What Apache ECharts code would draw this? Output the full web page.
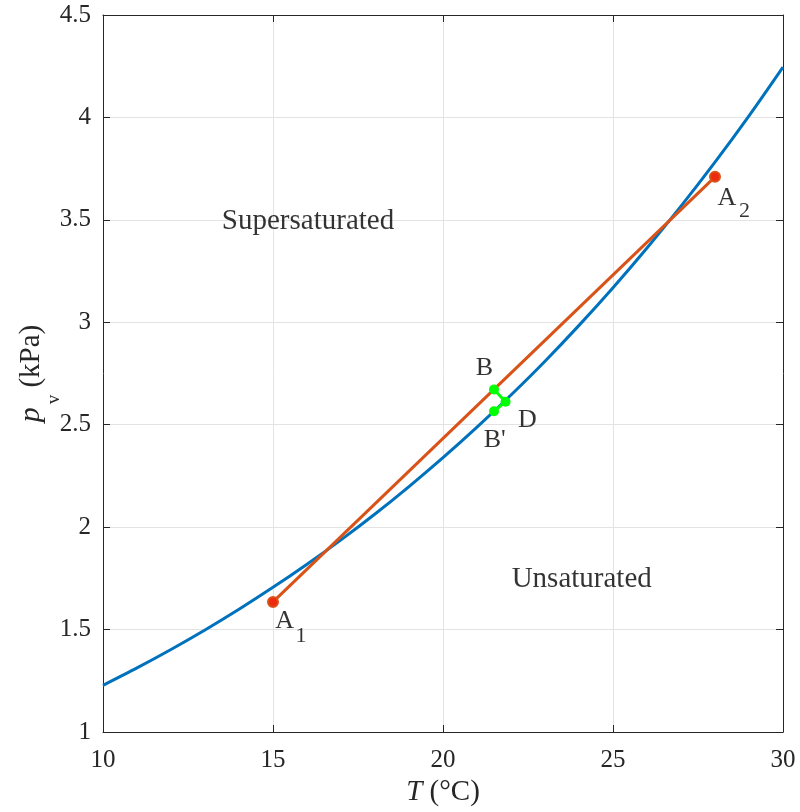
<!DOCTYPE html>
<html><head><meta charset="utf-8">
<script src="https://cdn.jsdelivr.net/npm/echarts@6/dist/echarts.min.js"></script>
<style>html,body{margin:0;padding:0;background:#fff}#c{width:800px;height:812px}</style>
</head><body><div id="c"></div>
<script>
// Saturation vapour pressure curve
const satT = [10,11,12,13,14,15,16,17,18,19,20,21,22,23,24,25,26,27,28,29,30];
const satP = [1.228,1.313,1.403,1.498,1.599,1.706,1.819,1.938,2.064,2.198,2.339,2.488,2.645,2.810,2.985,3.169,3.363,3.567,3.782,4.008,4.246];
// Mixing line A1 -> A2
const mixT = [15, 28];
const mixP = [1.635, 3.71];
// Green path B -> D -> B'
const pathT = [21.5, 21.84, 21.5];
const pathP = [2.672, 2.612, 2.566];
// Point letters
const ptNames = ['A', 'A', 'B', 'D', "B'"];
const ptT = [15.34, 28.35, 21.22, 22.48, 21.52];
const ptP = [1.542, 3.607, 2.775, 2.524, 2.423];
// Subscripts of A1, A2
const subNames = ['1', '2'];
const subT = [15.82, 28.87];
const subP = [1.467, 3.543];
// Region labels
const regNames = ['Supersaturated', 'Unsaturated'];
const regT = [16.03, 24.08];
const regP = [3.492, 1.743];

const FONT = '"Liberation Serif", "Times New Roman", serif';
const TXT = '#262626';
const chart = echarts.init(document.getElementById('c'), null, {renderer: 'canvas'});
const axisCommon = {
  axisLine: {show: true, onZero: false, lineStyle: {color: TXT, width: 1}},
  axisTick: {show: true, inside: true, length: 7, lineStyle: {color: TXT}},
  splitLine: {show: false}
};
const labelSeries = (names, ts, ps, size) => ({
  type: 'scatter', symbolSize: 0, silent: true, z: 5,
  data: ts.map((t, i) => ({value: [t, ps[i]], name: names[i]})),
  label: {show: true, position: 'inside', formatter: p => p.name,
    color: '#000', fontFamily: FONT, fontSize: size}
});
chart.setOption({
  animation: false,
  grid: {left: 103, right: 17, top: 15, bottom: 80, containLabel: false, outerBoundsMode: 'none'},
  xAxis: [
    Object.assign({}, axisCommon, {
      type: 'value', min: 10, max: 30, interval: 5, position: 'bottom',
      axisLabel: {color: TXT, fontFamily: FONT, fontSize: 25, margin: 16},
      splitLine: {show: true, lineStyle: {color: '#e3e3e3', width: 1}},
      name: '{i|T} (°C)', nameLocation: 'middle', nameGap: 46, nameMoveOverlap: false,
      nameTextStyle: {color: TXT, fontFamily: FONT, fontSize: 29,
        rich: {i: {fontStyle: 'italic', fontFamily: FONT, fontSize: 29, color: TXT}}}
    }),
    Object.assign({}, axisCommon, {
      type: 'value', min: 10, max: 30, interval: 5, position: 'top',
      axisLabel: {show: false}
    })
  ],
  yAxis: [
    Object.assign({}, axisCommon, {
      type: 'value', min: 1, max: 4.5, interval: 0.5, position: 'left',
      axisLabel: {color: TXT, fontFamily: FONT, fontSize: 25, margin: 12},
      splitLine: {show: true, lineStyle: {color: '#e3e3e3', width: 1}},
      name: '{i|p}{s|v}{n| (kPa)}', nameLocation: 'middle', nameGap: 57, nameRotate: 90,
      nameMoveOverlap: false,
      nameTextStyle: {color: TXT, fontFamily: FONT, fontSize: 29,
        rich: {i: {fontStyle: 'italic', fontFamily: FONT, fontSize: 30, lineHeight: 30, color: TXT},
               n: {fontFamily: FONT, fontSize: 29, lineHeight: 30, color: TXT},
               s: {fontFamily: FONT, fontSize: 19, lineHeight: 19, color: TXT, padding: [46, 0, 0, 3]}}}
    }),
    Object.assign({}, axisCommon, {
      type: 'value', min: 1, max: 4.5, interval: 0.5, position: 'right',
      axisLabel: {show: false}
    })
  ],
  series: [
    {
      type: 'line', data: satT.map((t, i) => [t, satP[i]]), smooth: 0.3,
      showSymbol: false, lineStyle: {color: '#0072BD', width: 3}, z: 2
    },
    {
      type: 'line', data: mixT.map((t, i) => [t, mixP[i]]),
      symbol: 'circle', symbolSize: 10, showSymbol: true,
      itemStyle: {color: '#ee2a10', borderColor: '#D95319', borderWidth: 2},
      lineStyle: {color: '#D95319', width: 3}, z: 3
    },
    {
      type: 'line', data: pathT.map((t, i) => [t, pathP[i]]),
      symbol: 'circle', symbolSize: 10, showSymbol: true,
      itemStyle: {color: '#00ff00'}, lineStyle: {color: '#00ff00', width: 3}, z: 4
    },
    labelSeries(ptNames, ptT, ptP, 26),
    labelSeries(subNames, subT, subP, 22),
    labelSeries(regNames, regT, regP, 29)
  ]
});
</script></body></html>
